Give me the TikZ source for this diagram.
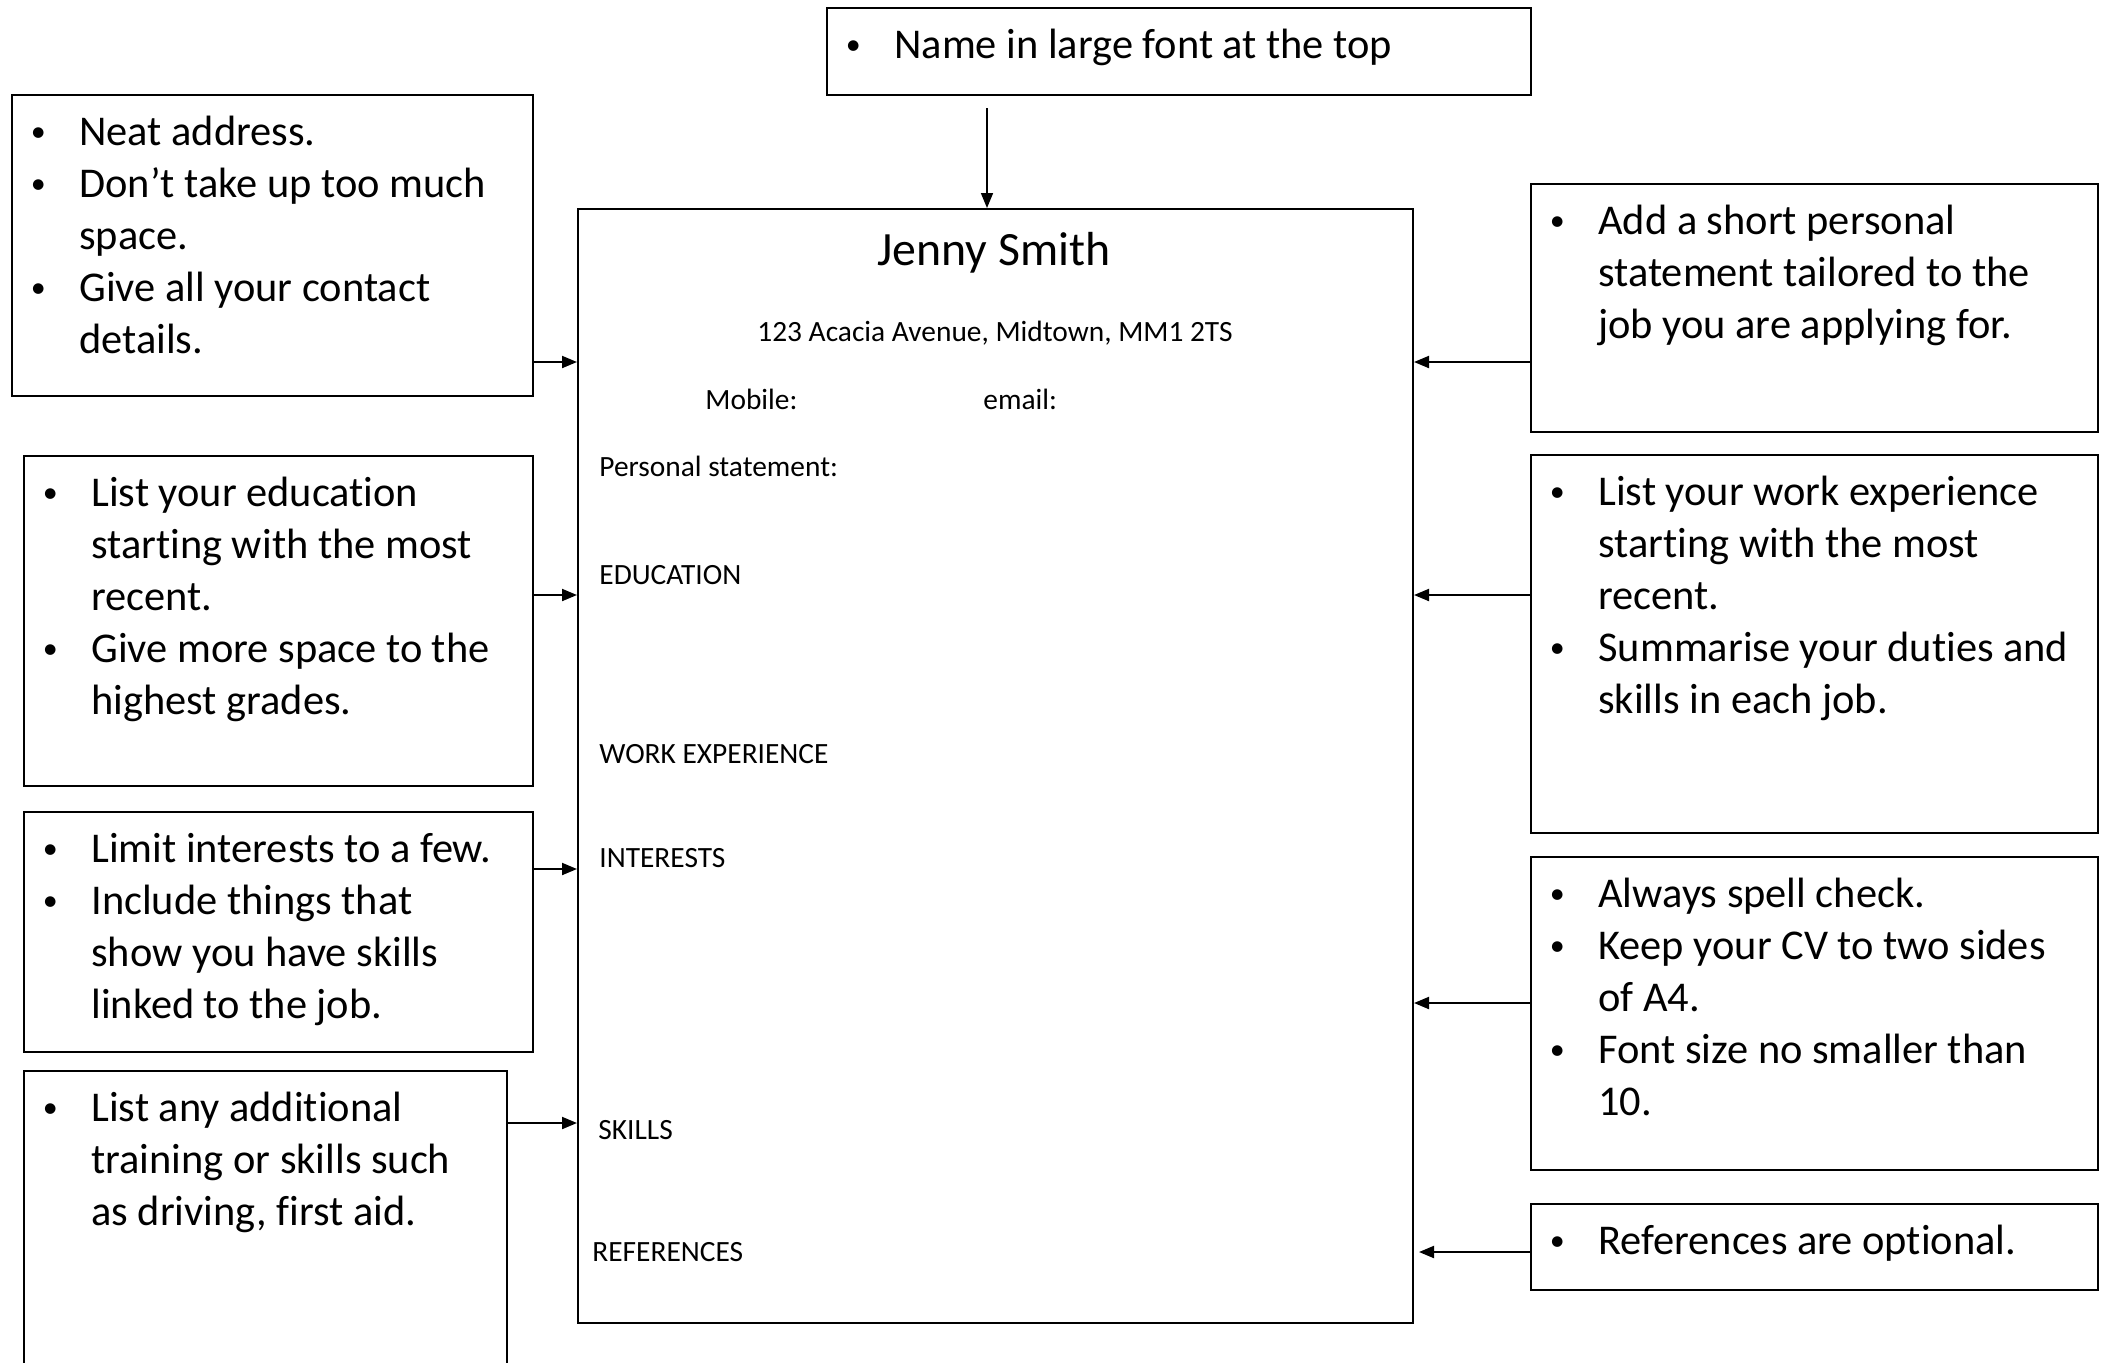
\documentclass[tikz,border=0pt]{standalone}
\usepackage{fontspec}
\setmainfont{Carlito}[Ligatures={TeX,NoCommon}]
\usetikzlibrary{arrows.meta}
\newlength{\tipindent}\setlength{\tipindent}{34pt}
\newcommand{\bul}{\strut\makebox[\tipindent][l]{\makebox[27pt]{\raisebox{1.8pt}{\fontsize{15}{15}\selectfont\textbullet}}}}
\newcommand{\cont}{\strut\hspace*{\tipindent}}

\begin{document}
\begin{tikzpicture}[
  x=0.5pt, y=-0.5pt,
  tipbox/.style={draw, line width=1.1pt, anchor=north west, inner sep=0pt},
  tiptext/.style={anchor=north west, align=left, inner sep=0pt,
                  font=\fontsize{21.2}{26}\selectfont},
  cvtext/.style={anchor=base west, inner sep=0pt, font=\fontsize{14.7}{18}\selectfont},
  arrow/.style={-{Triangle[length=7.5pt,width=6pt]}, line width=1pt}
]
\useasboundingbox (0,0) rectangle (2105,1362);

% the CV page
\node[tipbox, line width=1pt, minimum width=417.5pt, minimum height=557pt] (cv) at (577,208) {};
\node[anchor=base, inner sep=0pt, font=\fontsize{23.9}{28}\selectfont] (name) at (994,265) {Jenny Smith};
\node[anchor=base, inner sep=0pt, font=\fontsize{14.7}{18}\selectfont] (address) at (995,341) {123 Acacia Avenue, Midtown, MM1 2TS};
\node[cvtext] (mobile) at (705,409) {Mobile:};
\node[cvtext] (email) at (983,409) {email:};
\node[cvtext] (personal) at (599,476) {Personal statement:};
\node[cvtext] (education) at (599,584) {EDUCATION};
\node[cvtext] (workexp) at (599,763) {WORK EXPERIENCE};
\node[cvtext] (interests) at (599,867) {INTERESTS};
\node[cvtext] (skills) at (598,1139) {SKILLS};
\node[cvtext] (references) at (592,1261) {REFERENCES};

% tip boxes
\node[tipbox, minimum width=352pt, minimum height=43.5pt] (nametip) at (826,7) {};
\node[tiptext] (nametiptxt) at ([yshift=-7.3pt]nametip.north west) {\bul Name in large font at the top};

\node[tipbox, minimum width=260.5pt, minimum height=150.5pt] (addr) at (11,94) {};
\node[tiptext] (addrtxt) at ([yshift=-7.3pt]addr.north west) {\bul Neat address.\\
  \bul Don't take up too much\\ \cont space.\\
  \bul Give all your contact\\ \cont details.};

\node[tipbox, minimum width=254.5pt, minimum height=165pt] (edu) at (23,455) {};
\node[tiptext] (edutxt) at ([yshift=-7.3pt]edu.north west) {\bul List your education\\
  \cont starting with the most\\ \cont recent.\\
  \bul Give more space to the\\ \cont highest grades.};

\node[tipbox, minimum width=254.5pt, minimum height=120pt] (intr) at (23,811) {};
\node[tiptext] (intrtxt) at ([yshift=-7.3pt]intr.north west) {\bul Limit interests to a few.\\
  \bul Include things that\\ \cont show you have skills\\ \cont linked to the job.};

\node[tipbox, minimum width=241.5pt, minimum height=152pt] (skill) at (23,1070) {};
\node[tiptext] (skilltxt) at ([yshift=-7.3pt]skill.north west) {\bul List any additional\\
  \cont training or skills such\\ \cont as driving, first aid.};

\node[tipbox, minimum width=283.5pt, minimum height=124pt] (stmt) at (1530,183) {};
\node[tiptext] (stmttxt) at ([yshift=-7.3pt]stmt.north west) {\bul Add a short personal\\
  \cont statement tailored to the\\ \cont job you are applying for.};

\node[tipbox, minimum width=283.5pt, minimum height=189pt] (work) at (1530,454) {};
\node[tiptext] (worktxt) at ([yshift=-7.3pt]work.north west) {\bul List your work experience\\
  \cont starting with the most\\ \cont recent.\\
  \bul Summarise your duties and\\ \cont skills in each job.};

\node[tipbox, minimum width=283.5pt, minimum height=156.5pt] (spell) at (1530,856) {};
\node[tiptext] (spelltxt) at ([yshift=-7.3pt]spell.north west) {\bul Always spell check.\\
  \bul Keep your CV to two sides\\ \cont of A4.\\
  \bul Font size no smaller than\\ \cont 10.};

\node[tipbox, minimum width=283.5pt, minimum height=43pt] (refs) at (1530,1203) {};
\node[tiptext] (refstxt) at ([yshift=-7.3pt]refs.north west) {\bul References are optional.};

% connectors
\draw[arrow, line width=0.8pt] (nametip.south -| 987,0) ++(0,12) -- (987,0 |- cv.north);
\draw[arrow] (addr.east |- 0,362) -- (cv.west |- 0,362);
\draw[arrow] (edu.east |- 0,595) -- (cv.west |- 0,595);
\draw[arrow] (intr.east |- 0,869) -- (cv.west |- 0,869);
\draw[arrow] (skill.east |- 0,1123) -- (cv.west |- 0,1123);
\draw[arrow] (stmt.west |- 0,362) -- (cv.east |- 0,362);
\draw[arrow] (work.west |- 0,595) -- (cv.east |- 0,595);
\draw[arrow] (spell.west |- 0,1003) -- (cv.east |- 0,1003);
\draw[arrow, shorten >=2.5pt] (refs.west |- 0,1252) -- (cv.east |- 0,1252);
\end{tikzpicture}
\end{document}
